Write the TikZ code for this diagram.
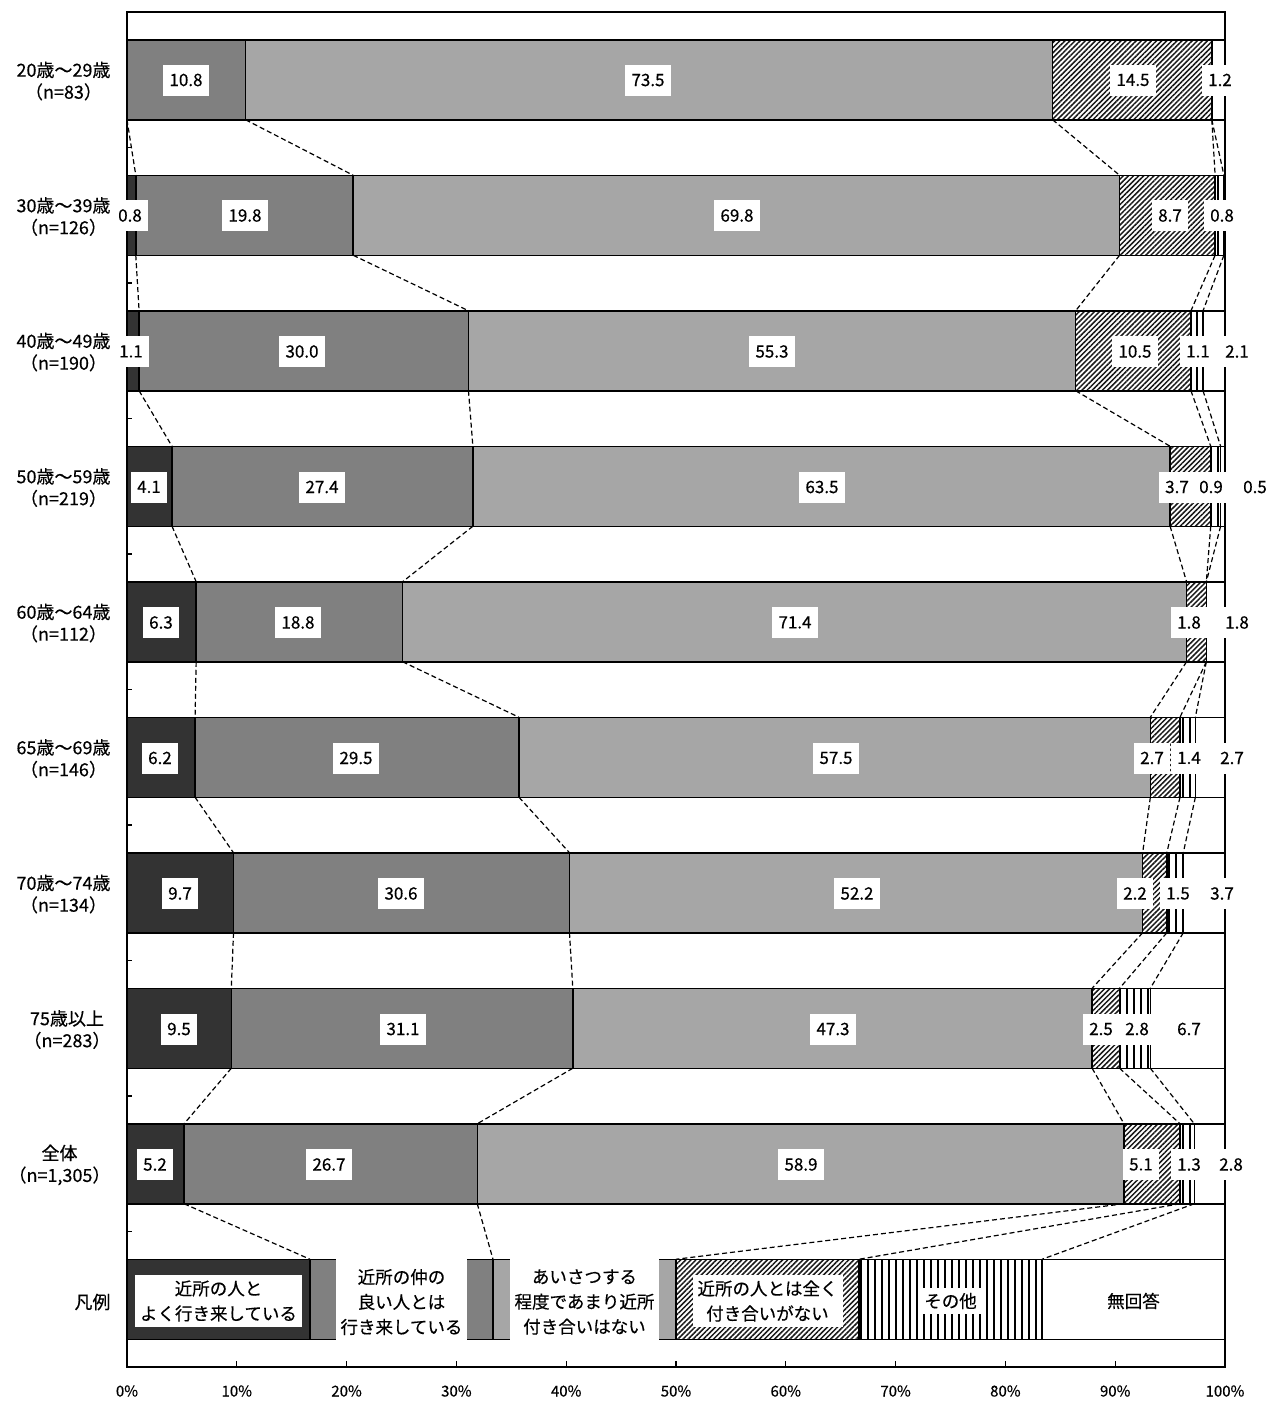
\documentclass[tikz,border=0pt]{standalone}
\usepackage{fontspec}
\setmainfont{Noto Sans CJK JP}[FakeBold=0.4]
\usetikzlibrary{patterns.meta}
\definecolor{cA}{HTML}{333333}
\definecolor{cB}{HTML}{808080}
\definecolor{cC}{HTML}{A6A6A6}
\tikzset{
  barseg/.style={draw=black, line width=1.5pt},
  sA/.style={barseg, fill=cA},
  sB/.style={barseg, fill=cB},
  sC/.style={barseg, fill=cC},
  sD/.style={barseg, preaction={fill=white}, pattern={Lines[angle=45,distance=3.6pt,line width=1.5pt]}, pattern color=black!90},
  sE/.style={barseg, preaction={fill=white}, pattern={Lines[angle=90,distance=7pt,line width=1.5pt]}, pattern color=black},
  sF/.style={barseg, fill=white},
  conn/.style={draw=black, line width=1.2pt, dash pattern=on 5pt off 3pt},
  num/.style={fill=white, inner xsep=6pt, inner ysep=0pt, minimum height=31pt, font=\fontsize{17}{20}\selectfont},
  cat/.style={anchor=east, align=center, font=\fontsize{18}{22}\selectfont},
  lgd/.style={fill=white, align=center, inner xsep=5pt, inner ysep=5pt, font=\fontsize{17.5}{25}\selectfont},
  ticklbl/.style={font=\fontsize{15}{17}\selectfont},
}
\begin{document}
\begin{tikzpicture}[x=1pt,y=-1pt]
\useasboundingbox (0,0) rectangle (1269,1401);
\def\cum{{0,10.8,84.3,98.8,98.8, 0.8,20.6,90.4,99.1,99.9, 1.1,31.1,86.4,96.9,98.0, 4.1,31.5,95.0,98.7,99.6, 6.3,25.1,96.5,98.3,98.3, 6.2,35.7,93.2,95.9,97.3, 9.7,40.3,92.5,94.7,96.2, 9.5,40.6,87.9,90.4,93.2, 5.2,31.9,90.8,95.9,97.2, 16.6667,33.3333,50,66.6667,83.3333}}
% bars
\foreach \i in {0,...,9}{
  \pgfmathsetmacro\yt{39.75+135.5*\i}
  \pgfmathsetmacro\yb{\yt+80}
  \pgfmathsetmacro\xa{127+10.98*\cum[5*\i]}
  \pgfmathsetmacro\xb{127+10.98*\cum[5*\i+1]}
  \pgfmathsetmacro\xc{127+10.98*\cum[5*\i+2]}
  \pgfmathsetmacro\xd{127+10.98*\cum[5*\i+3]}
  \pgfmathsetmacro\xe{127+10.98*\cum[5*\i+4]}
  \path[sA] (127,\yt) rectangle (\xa,\yb);
  \path[sB] (\xa,\yt) rectangle (\xb,\yb);
  \path[sC] (\xb,\yt) rectangle (\xc,\yb);
  \path[sD] (\xc,\yt) rectangle (\xd,\yb);
  \path[sE] (\xd,\yt) rectangle (\xe,\yb);
  \path[sF] (\xe,\yt) rectangle (1225,\yb);
}
% connectors
\foreach \i in {0,...,8}{
  \foreach \k in {0,...,4}{
    \pgfmathsetmacro\xu{127+10.98*\cum[5*\i+\k]}
    \pgfmathsetmacro\xl{127+10.98*\cum[5*\i+5+\k]}
    \pgfmathsetmacro\yu{119.75+135.5*\i}
    \pgfmathsetmacro\yl{175.25+135.5*\i}
    \draw[conn] (\xu,\yu) -- (\xl,\yl);
  }
}
% frame and ticks
\draw[line width=1.5pt] (127,12) rectangle (1225,1367);
\foreach \k in {1,...,9}{
  \draw[line width=1.3pt] (127,{12+135.5*\k}) -- (132,{12+135.5*\k});
}
\foreach \p in {0,...,10}{
  \draw[line width=1.3pt] ({127+109.8*\p},1367) -- ({127+109.8*\p},1361);
  \pgfmathtruncatemacro\pc{10*\p}
  \node[ticklbl] at ({127+109.8*\p},1391) {\pc\%};
}
% category labels
\node[cat] at (114,81) {20歳〜29歳\\（n=83）};
\node[cat] at (114,216.5) {30歳〜39歳\\（n=126）};
\node[cat] at (114,352) {40歳〜49歳\\（n=190）};
\node[cat] at (114,487.5) {50歳〜59歳\\（n=219）};
\node[cat] at (114,623) {60歳〜64歳\\（n=112）};
\node[cat] at (114,758.5) {65歳〜69歳\\（n=146）};
\node[cat] at (114,894) {70歳〜74歳\\（n=134）};
\node[cat] at (114,1029.5) {75歳以上\\（n=283）};
\node[cat] at (114,1165) {全体\\（n=1,305）};
\node[cat] at (114,1302) {凡例};
% value labels
\node[num] at (186,80) {10.8};
\node[num] at (648,80) {73.5};
\node[num] at (1133,80) {14.5};
\node[num] at (1220,80) {1.2};
\node[num] at (130,215.5) {0.8};
\node[num] at (245,215.5) {19.8};
\node[num] at (737,215.5) {69.8};
\node[num] at (1170,215.5) {8.7};
\node[num] at (1222,215.5) {0.8};
\node[num] at (131,351.5) {1.1};
\node[num] at (302,351.5) {30.0};
\node[num] at (772,351.5) {55.3};
\node[num] at (1135,351.5) {10.5};
\node[num] at (1198,351.5) {1.1};
\node[num] at (1237,351.5) {2.1};
\node[num] at (149,487) {4.1};
\node[num] at (322,487) {27.4};
\node[num] at (822,487) {63.5};
\node[num] at (1177,487) {3.7};
\node[num] at (1211,487) {0.9};
\node[num] at (1255,487) {0.5};
\node[num] at (161,622.5) {6.3};
\node[num] at (298,622.5) {18.8};
\node[num] at (795,622.5) {71.4};
\node[num] at (1189,622.5) {1.8};
\node[num] at (1237,622.5) {1.8};
\node[num] at (160,758) {6.2};
\node[num] at (356,758) {29.5};
\node[num] at (836,758) {57.5};
\node[num] at (1152,758) {2.7};
\node[num] at (1189,758) {1.4};
\node[num] at (1232,758) {2.7};
\node[num] at (180,893.5) {9.7};
\node[num] at (401,893.5) {30.6};
\node[num] at (857,893.5) {52.2};
\node[num] at (1135,893.5) {2.2};
\node[num] at (1178,893.5) {1.5};
\node[num] at (1222,893.5) {3.7};
\node[num] at (179,1029) {9.5};
\node[num] at (403,1029) {31.1};
\node[num] at (833,1029) {47.3};
\node[num] at (1101,1029) {2.5};
\node[num] at (1137,1029) {2.8};
\node[num] at (1189,1029) {6.7};
\node[num] at (155,1164.5) {5.2};
\node[num] at (329,1164.5) {26.7};
\node[num] at (801,1164.5) {58.9};
\node[num] at (1141,1164.5) {5.1};
\node[num] at (1189,1164.5) {1.3};
\node[num] at (1231,1164.5) {2.8};
% legend labels
\node[lgd] at (218.5,1301) {近所の人と\\よく行き来している};
\node[lgd, minimum height=86pt] at (401.5,1302) {近所の仲の\\良い人とは\\行き来している};
\node[lgd, minimum height=86pt] at (584.5,1302) {あいさつする\\程度であまり近所\\付き合いはない};
\node[lgd] at (767.5,1301) {近所の人とは全く\\付き合いがない};
\node[lgd] at (950.5,1301) {その他};
\node[lgd] at (1133.5,1301) {無回答};
\end{tikzpicture}
\end{document}
